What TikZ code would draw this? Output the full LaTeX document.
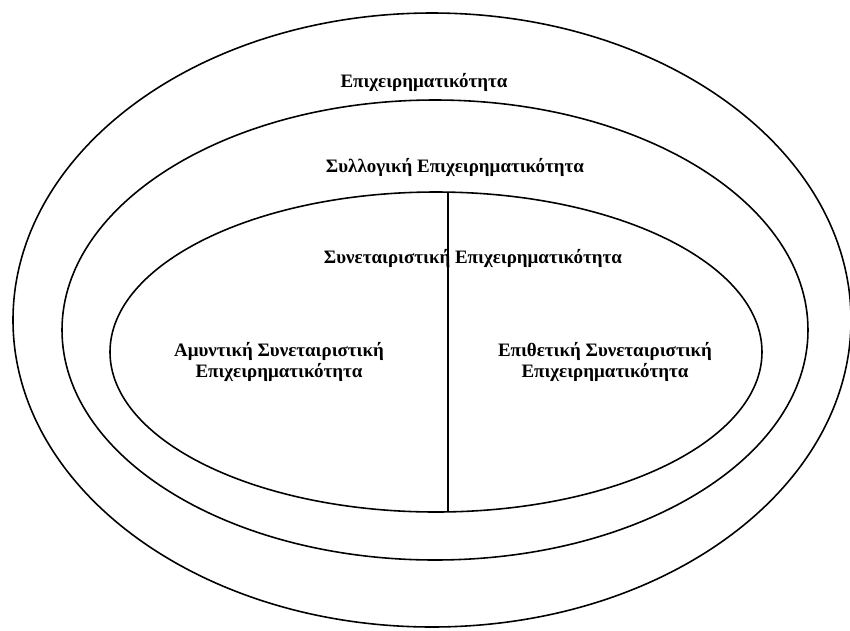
\documentclass[tikz,border=0pt]{standalone}
\usepackage{fontspec}
\setmainfont{Liberation Serif}
\usetikzlibrary{positioning}

\begin{document}
\begin{tikzpicture}[x=0.02cm,y=-0.02cm,
    label/.style={font=\bfseries\fontsize{10.8}{12}\selectfont, align=center}]
    \useasboundingbox (0,0) rectangle (850,630);
    \draw[line width=0.9pt] (432,320) ellipse [x radius=419, y radius=307];
    \draw[line width=0.9pt] (435,330) ellipse [x radius=373, y radius=230];
    \draw[line width=0.9pt] (436,352) ellipse [x radius=326, y radius=160];
    \coordinate (top) at (448,192);
    \coordinate (bottom) at (448,512);
    \draw[line width=1pt] (top) -- (bottom);
    \node[label] (ent) at (424,82) {Επιχειρηματικότητα};
    \node[label] (coll) at (455,167) {Συλλογική Επιχειρηματικότητα};
    \node[label] (coop) at (473,258) {Συνεταιριστική Επιχειρηματικότητα};
    \node[label] (def) at (279,362) {Αμυντική Συνεταιριστική\\Επιχειρηματικότητα};
    \node[label] (off) at (605,362) {Επιθετική Συνεταιριστική\\Επιχειρηματικότητα};
\end{tikzpicture}
\end{document}
